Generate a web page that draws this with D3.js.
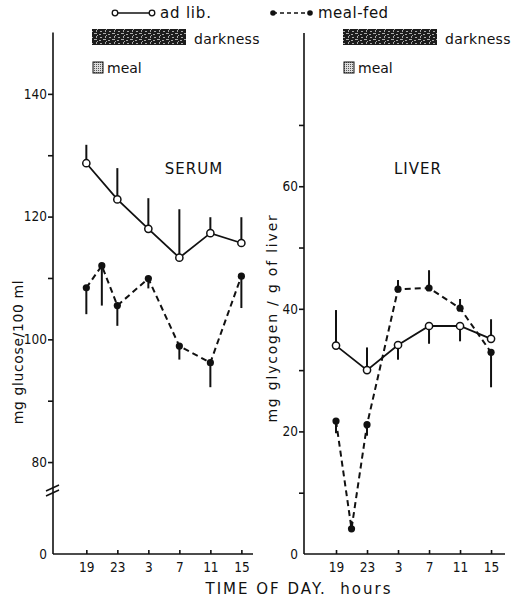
<!DOCTYPE html>
<html>
<head>
<meta charset="utf-8">
<script src="https://cdn.jsdelivr.net/npm/d3@7"></script>
<style>
  body { margin: 0; background: #fff; }
  svg text { font-family: "DejaVu Sans", sans-serif; fill: #111; }
  .axis path, .axis line { stroke: #111; stroke-width: 1.6; }
  .axis text { font-size: 13.5px; font-stretch: condensed; }
</style>
</head>
<body>
<svg id="chart" width="516" height="598"></svg>
<script>
// time of day, hours (x categories)
const tickHours = [19, 23, 3, 7, 11, 15];

// serum glucose, mg/100 ml
const serumAdLibHours = [19, 23, 3, 7, 11, 15];
const serumAdLib = [128.7, 122.8, 118.0, 113.3, 117.3, 115.7];
const serumAdLibErr = [131.7, 127.9, 123.0, 121.2, 119.9, 119.9];
const serumMealHours = [19, 21, 23, 3, 7, 11, 15];
const serumMeal = [108.4, 112.0, 105.5, 109.9, 98.9, 96.2, 110.3];
const serumMealErr = [104.1, 105.5, 102.2, 108.3, 96.7, 92.2, 105.1];

// liver glycogen, mg/g of liver
const liverAdLibHours = [19, 23, 3, 7, 11, 15];
const liverAdLib = [34.0, 30.0, 34.1, 37.2, 37.2, 35.1];
const liverAdLibErr = [39.8, 33.7, 31.7, 34.3, 34.7, 38.3];
const liverMealHours = [19, 21, 23, 3, 7, 11, 15];
const liverMeal = [21.7, 4.1, 21.1, 43.2, 43.4, 40.1, 32.9];
const liverMealErr = [19.7, 5.4, 19.3, 44.7, 46.3, 41.6, 27.2];

// y tick values
const serumTicks = [0, 80, 90, 100, 110, 120, 130, 140];
const serumLabels = [0, 80, 100, 120, 140];
const liverTicks = [0, 10, 20, 30, 40, 50, 60, 70];
const liverLabels = [0, 20, 40, 60];

// hours counted from 19:00
const hourOffset = h => (h - 19 + 24) % 24;

const svg = d3.select('#chart');

// textures for legend boxes
const defs = svg.append('defs');
const dark = defs.append('pattern')
    .attr('id', 'darkPat').attr('patternUnits', 'userSpaceOnUse')
    .attr('width', 9).attr('height', 6);
dark.append('rect').attr('width', 9).attr('height', 6).attr('fill', '#1c1c1c');
[[1, 1, 2, 1], [4, 3, 3, 1], [6, 0, 1, 2], [0, 4, 2, 1], [7, 5, 1, 1]].forEach(r => {
    dark.append('rect').attr('x', r[0]).attr('y', r[1]).attr('width', r[2]).attr('height', r[3]).attr('fill', '#aaa');
});
const dots = defs.append('pattern')
    .attr('id', 'mealPat').attr('patternUnits', 'userSpaceOnUse')
    .attr('width', 2).attr('height', 2);
dots.append('rect').attr('width', 2).attr('height', 2).attr('fill', '#ddd');
dots.append('rect').attr('width', 1).attr('height', 1).attr('fill', '#555');

function drawPanel(cfg) {
    const g = svg.append('g');
    const x = d3.scaleLinear().domain(cfg.xDomain).range(cfg.xRange);
    const y = d3.scaleLinear().domain(cfg.yDomain).range(cfg.yRange);

    // x axis
    const xAxis = d3.axisBottom(x)
        .tickValues(tickHours.map(hourOffset))
        .tickSize(-4).tickSizeOuter(0).tickPadding(8)
        .tickFormat(d => tickHours[tickHours.map(hourOffset).indexOf(d)]);
    g.append('g').attr('class', 'axis')
        .attr('transform', `translate(0,${y(0)})`)
        .call(xAxis)
        .call(a => a.select('.domain').attr('d', `M${cfg.xRange[0]},0H${cfg.xRange[1]}`));

    // y axis
    const yAxis = d3.axisLeft(y)
        .tickValues(cfg.yTicks)
        .tickSize(5).tickSizeOuter(0).tickPadding(1)
        .tickFormat(d => cfg.yLabels.includes(d) ? d : '');
    g.append('g').attr('class', 'axis')
        .attr('transform', `translate(${cfg.xRange[0]},0)`)
        .call(yAxis)
        .call(a => a.select('.domain').attr('d', `M0,${cfg.yRange[cfg.yRange.length - 1]}V${y(0)}`))
        .call(a => a.selectAll('.tick').filter(d => d === 0).select('line').remove());

    // axis title
    g.append('text')
        .attr('transform', `translate(${cfg.titleX},${cfg.titleY}) rotate(-90)`)
        .attr('text-anchor', 'middle')
        .style('font-size', '14px')
        .style('letter-spacing', cfg.titleSpacing)
        .text(cfg.title);

    // panel label
    g.append('text')
        .attr('x', cfg.labelX).attr('y', 174)
        .attr('text-anchor', 'middle')
        .style('font-size', '15px')
        .style('letter-spacing', '1px')
        .text(cfg.label);

    const line = d3.line().x(d => x(hourOffset(d.h))).y(d => y(d.v));
    const adlib = cfg.adHours.map((h, i) => ({ h: h, v: cfg.ad[i], e: cfg.adErr[i] }));
    const meal = cfg.mealHours.map((h, i) => ({ h: h, v: cfg.meal[i], e: cfg.mealErr[i] }));

    // error bars
    g.selectAll('.err').data(adlib.concat(meal)).join('line')
        .attr('x1', d => x(hourOffset(d.h))).attr('x2', d => x(hourOffset(d.h)))
        .attr('y1', d => y(d.v)).attr('y2', d => y(d.e))
        .attr('stroke', '#111').attr('stroke-width', 2);

    g.append('path').datum(adlib)
        .attr('d', line).attr('fill', 'none')
        .attr('stroke', '#111').attr('stroke-width', 1.8);
    g.append('path').datum(meal)
        .attr('d', line).attr('fill', 'none')
        .attr('stroke', '#111').attr('stroke-width', 2)
        .attr('stroke-dasharray', '6,4');

    g.selectAll('.open').data(adlib).join('circle')
        .attr('cx', d => x(hourOffset(d.h))).attr('cy', d => y(d.v))
        .attr('r', 3.6).attr('fill', '#fff').attr('stroke', '#111').attr('stroke-width', 1.5);
    g.selectAll('.filled').data(meal).join('circle')
        .attr('cx', d => x(hourOffset(d.h))).attr('cy', d => y(d.v))
        .attr('r', 3.6).attr('fill', '#111');

    // darkness / meal keys
    g.append('rect')
        .attr('x', cfg.keyX).attr('y', 29).attr('width', 94).attr('height', 16)
        .attr('fill', 'url(#darkPat)');
    g.append('text')
        .attr('x', cfg.keyX + 102).attr('y', 44)
        .style('font-size', '14px').style('letter-spacing', '0.3px')
        .text('darkness');
    g.append('rect')
        .attr('x', cfg.keyX + 1).attr('y', 62).attr('width', 10).attr('height', 11)
        .attr('fill', 'url(#mealPat)').attr('stroke', '#111').attr('stroke-width', 1);
    g.append('text')
        .attr('x', cfg.keyX + 15).attr('y', 73)
        .style('font-size', '14px')
        .text('meal');

    return { g, x, y };
}

drawPanel({
    xDomain: [-4.3, 21.5], xRange: [53, 253],
    yDomain: [0, 75, 150], yRange: [554, 492.75, 32.5],
    yTicks: serumTicks, yLabels: serumLabels,
    title: 'mg glucose/100 ml', titleX: 23, titleY: 352, titleSpacing: '0.6px',
    label: 'SERUM', labelX: 194,
    adHours: serumAdLibHours, ad: serumAdLib, adErr: serumAdLibErr,
    mealHours: serumMealHours, meal: serumMeal, mealErr: serumMealErr,
    keyX: 92
});

drawPanel({
    xDomain: [-4.13, 21.8], xRange: [304, 505],
    yDomain: [0, 85], yRange: [554, 33],
    yTicks: liverTicks, yLabels: liverLabels,
    title: 'mg glycogen / g of liver', titleX: 277, titleY: 318, titleSpacing: '1.8px',
    label: 'LIVER', labelX: 418,
    adHours: liverAdLibHours, ad: liverAdLib, adErr: liverAdLibErr,
    mealHours: liverMealHours, meal: liverMeal, mealErr: liverMealErr,
    keyX: 343
});

// axis break on serum scale
[0, 5].forEach(dy => {
    svg.append('line')
        .attr('x1', 46).attr('y1', 491 + dy).attr('x2', 59).attr('y2', 485 + dy)
        .attr('stroke', '#111').attr('stroke-width', 1.6);
});

// series legend
const legend = svg.append('g');
legend.append('line').attr('x1', 115).attr('x2', 152).attr('y1', 13).attr('y2', 13)
    .attr('stroke', '#111').attr('stroke-width', 1.5);
[115, 152].forEach(cx => legend.append('circle').attr('cx', cx).attr('cy', 13).attr('r', 2.8)
    .attr('fill', '#fff').attr('stroke', '#111').attr('stroke-width', 1.3));
legend.append('text').attr('x', 160).attr('y', 18).style('font-size', '15px').style('letter-spacing', '0.8px').text('ad lib.');
legend.append('line').attr('x1', 273).attr('x2', 310).attr('y1', 13).attr('y2', 13)
    .attr('stroke', '#111').attr('stroke-width', 1.5).attr('stroke-dasharray', '4,3');
[273, 310].forEach(cx => legend.append('circle').attr('cx', cx).attr('cy', 13).attr('r', 2.8).attr('fill', '#111'));
legend.append('text').attr('x', 318).attr('y', 18).style('font-size', '15px').style('letter-spacing', '0.5px').text('meal-fed');

// shared x title
svg.append('text')
    .attr('x', 299).attr('y', 594)
    .attr('text-anchor', 'middle')
    .style('font-size', '15px').style('letter-spacing', '2px')
    .attr('xml:space', 'preserve')
    .text('TIME OF DAY.  hours');
</script>
</body>
</html>
